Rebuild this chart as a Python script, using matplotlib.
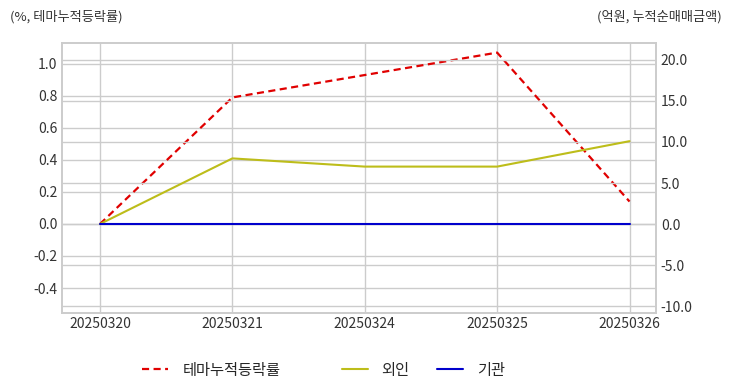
import matplotlib
matplotlib.use("Agg")
import matplotlib.pyplot as plt
import seaborn as sns
import numpy as np

sns.set_style("whitegrid")
plt.rcParams['font.family'] = ['Noto Sans CJK KR', 'DejaVu Sans']
plt.rcParams['axes.unicode_minus'] = False

dates = ['20250320', '20250321', '20250324', '20250325', '20250326']
theme_rate = [0.0, 0.79, 0.93, 1.07, 0.14]
foreign = [0.0, 8.0, 7.0, 7.0, 10.1]
institution = [0.0, 0.0, 0.0, 0.0, 0.0]

left_ticks = [-0.4, -0.2, 0.0, 0.2, 0.4, 0.6, 0.8, 1.0]
right_ticks = [-10.0, -5.0, 0.0, 5.0, 10.0, 15.0, 20.0]

x = np.arange(len(dates))

fig = plt.figure(figsize=(7.32, 3.92), dpi=100)
ax1 = fig.add_axes([62/732, 1 - 313/392, 594/732, 270/392])
ax2 = ax1.twinx()

l1, = ax1.plot(x, theme_rate, color='#e00000', linestyle='--', linewidth=1.6,
               dashes=(3.2, 2.0), label='테마누적등락률')
l2, = ax2.plot(x, foreign, color='#bdbd1a', linewidth=1.5, label='외인')
l3, = ax2.plot(x, institution, color='#0000cc', linewidth=1.5, label='기관')

ax1.set_xlim(-0.287, 4.2)
ax1.set_ylim(-0.556, 1.13)
ax2.set_ylim(-10.85, 22.07)
ax1.set_xticks(x)
ax1.set_xticklabels(dates)
ax1.set_yticks(left_ticks)
ax1.set_yticklabels(['%.1f' % v for v in left_ticks])
ax2.set_yticks(right_ticks)
ax2.set_yticklabels(['%.1f' % v for v in right_ticks])

for ax in (ax1, ax2):
    ax.tick_params(labelsize=10, colors='#333333', length=0)
    for s in ax.spines.values():
        s.set_color('#cccccc')
        s.set_linewidth(1.2)
ax2.grid(True, color='#cccccc', linewidth=1)
ax1.grid(True, color='#cccccc', linewidth=1)
ax1.tick_params(axis='x', pad=3)

fig.text(10/732, 1 - 17/392, '(%, 테마누적등락률)', fontsize=9.5, color='#333333',
         va='center', ha='left')
fig.text(722/732, 1 - 17/392, '(억원, 누적순매매금액)', fontsize=9.5, color='#333333',
         va='center', ha='right')

fig.legend(handles=[l1], loc='center left', bbox_to_anchor=(128/732, 1 - 370/392),
           frameon=False, fontsize=11, handlelength=1.7, handletextpad=1.0)
fig.legend(handles=[l2, l3], loc='center left', bbox_to_anchor=(328/732, 1 - 370/392),
           frameon=False, fontsize=11, ncol=2, handlelength=1.7, handletextpad=0.9,
           columnspacing=1.8)

fig.savefig('out.png', dpi=100)
